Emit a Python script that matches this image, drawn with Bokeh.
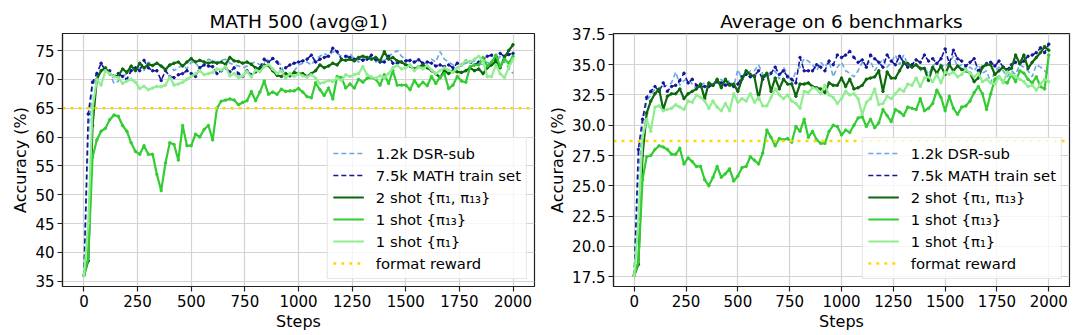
from bokeh.plotting import figure
from bokeh.layouts import row
from bokeh.models import Range1d, FixedTicker, PrintfTickFormatter, Legend, LegendItem
from bokeh.embed import file_html
from bokeh.resources import INLINE

steps = list(range(0, 2001, 20))
x_ticks = [0, 250, 500, 750, 1000, 1250, 1500, 1750, 2000]

series_names = ["1.2k DSR-sub", "7.5k MATH train set", "2 shot {π₁, π₁₃}",
                "1 shot {π₁₃}", "1 shot {π₁}", "format reward"]

# ---- MATH 500 (avg@1) ----
math_dsr = [36.0, 60.0, 69.0, 70.5, 71.5, 71.8, 71.0, 69.3, 69.7, 70.5,
            71.0, 71.5, 71.8, 72.0, 71.5, 73.0, 72.5, 72.8, 72.3, 72.0,
            72.5, 71.5, 72.0, 72.5, 71.8, 73.0, 72.8, 72.0, 72.5, 73.5,
            73.2, 73.0, 73.3, 73.5, 72.8, 72.5, 72.3, 72.0, 72.3, 72.8,
            73.0, 72.5, 73.0, 73.5, 73.8, 73.0, 72.5, 70.0, 71.0, 71.5,
            72.5, 72.8, 73.0, 72.5, 73.5, 74.0, 74.5, 74.0, 74.8, 74.5,
            74.0, 73.8, 74.5, 73.5, 73.0, 73.5, 74.0, 73.8, 73.0, 73.5,
            73.2, 74.0, 74.5, 75.0, 74.0, 73.5, 73.0, 72.8, 73.5, 72.5,
            73.0, 73.5, 73.0, 74.8, 73.5, 73.0, 72.5, 72.0, 72.5, 72.8,
            73.0, 73.2, 72.8, 72.5, 73.0, 72.5, 72.8, 74.0, 73.0, 72.0,
            71.0]
math_75k = [36.0, 64.0, 69.5, 71.0, 72.8, 71.5, 71.5, 70.5, 71.0, 70.5,
            70.0, 71.5, 72.0, 71.5, 73.3, 72.0, 71.5, 71.5, 69.8, 71.5,
            70.5, 70.3, 70.8, 71.0, 71.5, 71.0, 70.5, 72.0, 72.5, 72.3,
            72.2, 71.0, 71.5, 72.0, 71.3, 72.0, 71.0, 70.5, 71.5, 70.8,
            71.3, 72.0, 73.5, 73.0, 73.6, 73.0, 71.5, 72.0, 72.5, 72.8,
            73.0, 73.2, 73.5, 74.2, 73.0, 73.5, 73.8, 74.0, 75.4, 74.8,
            73.5, 74.0, 73.8, 73.5, 73.6, 73.3, 73.5, 74.2, 73.4, 73.0,
            73.0, 74.0, 72.8, 72.8, 73.0, 73.2, 73.3, 73.0, 73.4, 72.8,
            73.0, 72.8, 72.3, 72.5, 72.2, 72.5, 72.0, 72.8, 72.5, 73.2,
            73.0, 72.5, 73.0, 73.5, 74.0, 74.2, 73.5, 74.5, 74.0, 74.3,
            74.5]
math_2shot = [36.0, 38.5, 62.0, 70.0, 71.5, 72.0, 71.0, 70.5, 70.6, 71.8,
              71.2, 72.3, 71.5, 72.8, 72.0, 72.6, 72.4, 72.8, 72.3, 71.7,
              72.5, 72.8, 73.0, 72.3, 73.0, 73.6, 73.0, 73.3, 73.0, 72.8,
              73.0, 72.8, 73.0, 72.6, 73.8, 73.2, 73.1, 72.8, 73.0, 72.6,
              72.0, 71.8, 72.5, 72.4, 71.5, 70.7, 70.5, 71.0, 70.6, 71.2,
              71.0, 71.0, 70.5, 71.0, 71.5, 72.5, 72.0, 72.3, 72.8, 72.5,
              73.4, 73.3, 73.5, 73.2, 73.8, 74.0, 73.8, 73.5, 73.8, 73.2,
              74.8, 73.5, 73.8, 73.2, 73.0, 72.5, 72.3, 71.8, 72.2, 72.5,
              72.0, 71.5, 71.0, 70.3, 71.5, 71.0, 71.5, 71.3, 71.2, 71.5,
              72.0, 71.5, 71.8, 71.0, 72.0, 72.5, 73.2, 72.0, 73.8, 75.0,
              76.0]
math_pi13 = [36.0, 39.0, 56.5, 59.5, 61.0, 61.5, 63.0, 63.8, 63.6, 62.0,
             61.0, 59.0, 57.5, 57.0, 58.5, 57.0, 57.0, 53.5, 50.7, 55.5,
             59.0, 58.7, 56.0, 62.0, 58.5, 58.5, 60.5, 60.0, 61.3, 62.0,
             59.5, 65.0, 66.2, 66.4, 66.6, 66.4, 65.6, 66.0, 66.3, 67.9,
             66.3, 67.8, 69.7, 67.4, 67.8, 67.4, 68.3, 67.9, 68.0, 68.0,
             68.4, 67.8, 67.0, 66.8, 69.4, 68.2, 67.2, 68.5, 66.6, 70.5,
             70.3, 68.5, 69.2, 68.5, 70.0, 69.5, 70.2, 70.3, 70.0, 69.0,
             70.8, 69.3, 71.5, 69.0, 69.0, 69.0, 68.2, 69.8, 68.8, 69.5,
             68.9, 70.5, 69.3, 70.4, 71.0, 68.4, 69.0, 70.5, 69.7, 69.5,
             72.2, 72.5, 72.5, 73.8, 72.3, 73.0, 74.2, 72.2, 73.5, 72.8,
             74.0]
math_pi1 = [36.0, 45.0, 65.0, 70.0, 69.0, 71.5, 71.0, 70.5, 70.3, 69.3,
            69.7, 70.0, 69.5, 68.4, 68.8, 68.2, 68.5, 68.8, 68.7, 69.0,
            70.4, 69.0, 69.2, 69.5, 70.0, 70.5, 71.0, 71.5, 70.8, 71.0,
            71.2, 71.8, 71.6, 72.2, 70.6, 71.0, 70.3, 70.6, 71.4, 70.4,
            71.6, 71.3, 72.2, 72.6, 71.8, 71.0, 71.5, 70.2, 71.0, 70.5,
            71.0, 70.6, 70.4, 70.8, 70.2, 69.3, 69.5, 69.8, 69.6, 70.2,
            69.8, 70.8, 70.5, 70.8, 71.0, 72.2, 70.8, 70.4, 70.2, 70.6,
            70.3, 71.0, 72.0, 72.4, 71.8, 72.0, 72.5, 71.5, 72.2, 71.8,
            72.4, 71.6, 71.0, 71.5, 72.0, 71.6, 71.2, 72.0, 72.5, 73.2,
            73.0, 73.5, 74.0, 73.2, 70.5, 70.5, 72.5, 71.0, 70.3, 72.0,
            73.5]
math_format = 65.0
math_y_ticks = [35, 40, 45, 50, 55, 60, 65, 70, 75]

# ---- Average on 6 benchmarks ----
avg_dsr = [17.6, 26.0, 30.0, 32.0, 32.5, 33.0, 32.8, 33.2, 33.3, 33.5,
           34.4, 33.3, 33.7, 33.8, 33.4, 33.0, 33.3, 33.5, 33.2, 33.4,
           33.5, 33.8, 33.4, 33.7, 33.2, 34.6, 33.8, 34.2, 34.5, 34.5,
           35.0, 34.2, 34.0, 34.2, 34.5, 33.8, 34.8, 34.2, 33.5, 34.5,
           34.8, 35.5, 35.3, 35.0, 34.5, 35.2, 34.8, 35.3, 34.0, 34.8,
           35.2, 34.5, 34.3, 34.0, 34.5, 35.2, 35.0, 35.3, 34.5, 35.0,
           35.5, 34.8, 35.2, 35.8, 35.0, 35.8, 35.0, 34.8, 35.0, 34.5,
           34.8, 34.2, 34.9, 35.2, 35.0, 34.8, 35.2, 35.7, 34.8, 35.0,
           34.5, 34.8, 34.5, 35.0, 34.3, 34.5, 33.5, 34.5, 34.8, 34.5,
           34.0, 34.5, 34.2, 35.0, 34.8, 34.5, 34.0, 35.0, 34.8, 34.5,
           34.2]
avg_75k = [17.6, 28.0, 30.5, 32.3, 32.8, 33.2, 32.8, 33.5, 32.8, 33.2,
           33.3, 33.7, 34.3, 33.5, 33.8, 33.3, 33.2, 33.2, 33.2, 33.3,
           33.6, 33.5, 33.3, 33.4, 33.2, 33.4, 34.0, 34.2, 34.0, 34.1,
           34.5, 33.8, 34.2, 34.3, 34.8, 34.2, 34.5, 34.0, 33.8, 33.5,
           35.6, 34.5, 34.5, 34.5, 35.0, 34.8, 34.5, 35.3, 35.0, 35.8,
           35.6, 35.8, 36.1, 35.6, 35.2, 35.4, 34.8, 35.8, 35.5, 35.2,
           34.8, 35.8, 35.3, 35.0, 35.7, 35.2, 34.8, 35.0, 35.4, 35.2,
           35.8, 35.3, 35.5, 35.1, 35.5, 36.3, 35.1, 36.2, 35.5, 35.3,
           34.9, 35.2, 35.5, 34.5, 34.8, 35.1, 35.2, 34.9, 35.3, 34.8,
           34.6, 35.0, 35.2, 35.1, 35.3, 35.7, 35.8, 36.0, 36.4, 36.0,
           36.7]
avg_2shot = [17.6, 18.5, 27.5, 31.0, 32.0, 32.6, 33.0, 31.3, 32.4, 32.6,
             32.6, 33.0, 32.2, 32.6, 32.8, 33.0, 33.4, 32.2, 33.5, 33.3,
             33.8, 33.1, 33.8, 33.3, 33.4, 32.8, 33.8, 34.5, 34.2, 34.0,
             32.2, 34.0, 34.3, 32.8, 33.9, 33.0, 33.8, 33.4, 33.4, 32.4,
             33.4, 33.4, 33.5, 33.2, 33.1, 33.0, 32.7, 33.5, 33.3, 33.3,
             33.9, 33.2, 33.8, 33.0, 33.1, 33.3, 33.8, 33.9, 34.0, 34.5,
             32.8, 34.4, 33.9, 33.9, 34.5, 35.1, 35.1, 34.8, 35.0, 34.7,
             34.7, 33.7, 34.8, 34.3, 34.9, 34.2, 35.0, 34.5, 34.9, 34.6,
             34.5, 34.3, 33.6, 33.9, 34.8, 35.0, 35.0, 34.2, 34.5, 34.8,
             34.5, 34.7, 35.8, 35.1, 35.8, 34.7, 35.2, 35.6, 36.0, 36.5,
             36.2]
avg_pi13 = [17.6, 18.7, 25.5, 27.4, 27.5, 28.0, 28.3, 28.2, 28.0, 27.6,
            27.6, 28.1, 26.8, 27.3, 27.0, 26.6, 26.6, 25.5, 25.0, 25.7,
            26.6, 25.7, 26.0, 26.4, 25.4, 25.8, 26.5, 26.6, 27.4, 27.1,
            26.8, 27.7, 29.6, 29.0, 28.3, 28.9, 28.8, 28.9, 28.6, 29.9,
            29.5, 30.5, 29.0, 29.5, 28.8, 28.5, 28.5, 29.5, 30.0, 29.9,
            29.2, 29.6, 29.4, 30.0, 30.6, 30.7, 29.9, 30.5, 29.8, 30.2,
            31.3, 30.8, 30.3, 31.3, 31.1, 30.8, 31.5, 31.4, 31.3, 32.2,
            31.2, 31.4, 31.8, 32.9, 32.3, 31.2, 32.4, 31.4, 30.9, 31.5,
            31.6, 32.0, 32.7, 33.2, 32.6, 31.3, 32.6, 33.8, 34.0, 33.6,
            33.5, 34.2, 33.6, 34.5, 34.3, 33.8, 33.5, 34.0, 33.2, 33.0,
            35.8]
avg_pi1 = [17.6, 22.0, 29.0, 30.5, 29.5, 31.5, 31.6, 31.2, 31.3, 31.4,
           31.7, 31.5, 31.3, 32.0, 31.9, 32.5, 32.3, 32.0, 31.4, 32.0,
           31.5, 31.2, 31.8, 31.2, 32.6, 31.9, 32.2, 32.0, 32.6, 31.9,
           32.3, 31.6, 31.6, 32.3, 33.0, 32.5, 32.2, 32.5, 32.0, 31.8,
           31.4, 32.8, 32.7, 33.1, 33.0, 32.6, 33.3, 32.5, 32.3, 31.8,
           32.2, 32.8, 32.5, 32.6, 32.2, 30.9, 31.9, 32.2, 33.0, 31.7,
           31.8, 32.4, 32.2, 32.6, 33.0, 32.8, 33.4, 33.3, 33.9, 33.2,
           33.9, 34.0, 33.6, 34.2, 33.5, 34.4, 34.2, 34.4, 34.0, 34.2,
           34.6, 34.3, 34.0, 34.3, 33.6, 33.8, 33.5, 33.4, 34.0, 33.5,
           34.4, 34.2, 34.0, 33.8, 33.6, 33.2, 33.3, 32.9, 33.4, 33.8,
           33.6]
avg_format = 28.7
avg_y_ticks = [17.5, 20.0, 22.5, 25.0, 27.5, 30.0, 32.5, 35.0, 37.5]

FONT = "DejaVu Sans"
COLORS = ["#67a9e0", "#15159c", "#0c680c", "#32cd32", "#90ee90", "#ffd700"]


def make_panel(title, series, fmt_val, y_ticks, y_range, y_fmt, border_left, border_right):
    p = figure(width=540, height=335, output_backend="svg", toolbar_location=None,
               x_range=Range1d(-100, 2100), y_range=Range1d(*y_range),
               min_border_left=border_left, min_border_right=border_right,
               min_border_top=33, min_border_bottom=49)
    p.title.text = title
    p.title.align = "center"
    p.title.text_font = FONT
    p.title.text_font_size = "18.5px"
    p.title.text_font_style = "normal"
    p.title.text_color = "black"
    p.title.standoff = 3

    p.outline_line_color = "#222222"
    p.outline_line_width = 1.2
    p.background_fill_color = "white"
    p.border_fill_color = "white"

    for ax in (p.xaxis[0], p.yaxis[0]):
        ax.axis_label_text_font = FONT
        ax.axis_label_text_font_size = "16px"
        ax.axis_label_text_font_style = "normal"
        ax.axis_label_text_color = "black"
        ax.major_label_text_font = FONT
        ax.major_label_text_font_size = "15px"
        ax.major_label_text_color = "black"
        ax.major_tick_in = 0
        ax.major_tick_out = 5
        ax.minor_tick_line_color = None
        ax.axis_line_color = "#222222"
        ax.axis_line_width = 1.2
        ax.major_tick_line_color = "#222222"
        ax.major_tick_line_width = 1.2
        ax.major_label_standoff = 3
        ax.axis_label_standoff = 2
    p.xaxis[0].axis_label = "Steps"
    p.yaxis[0].axis_label = "Accuracy (%)"
    p.xaxis[0].ticker = FixedTicker(ticks=x_ticks)
    p.yaxis[0].ticker = FixedTicker(ticks=y_ticks)
    p.yaxis[0].formatter = PrintfTickFormatter(format=y_fmt)

    p.xgrid[0].ticker = FixedTicker(ticks=x_ticks)
    p.ygrid[0].ticker = FixedTicker(ticks=y_ticks)
    for g in (p.xgrid[0], p.ygrid[0]):
        g.grid_line_color = "#d3d3d3"
        g.grid_line_width = 1.2

    items = []
    styles = [
        dict(dash="5 3", width=1.6, marker=False),
        dict(dash="5 3", width=1.6, marker=True),
        dict(dash="solid", width=2.2, marker=True),
        dict(dash="solid", width=2.2, marker=True),
        dict(dash="solid", width=2.2, marker=True),
    ]
    for name, ys, color, st in zip(series_names[:5], series, COLORS[:5], styles):
        ln = p.line(steps, ys, line_color=color, line_width=st["width"], line_dash=st["dash"])
        if st["marker"]:
            p.scatter(steps, ys, size=2.5, marker="circle",
                      fill_color=color, line_color=color)
        items.append(LegendItem(label=name, renderers=[ln]))

    fr = p.line([p.x_range.start, p.x_range.end], [fmt_val, fmt_val],
                line_color=COLORS[5], line_width=2.6, line_dash="3 5")
    items.append(LegendItem(label=series_names[5], renderers=[fr]))

    legend = Legend(items=items, location="bottom_right")
    legend.label_text_font = FONT
    legend.label_text_font_size = "14.8px"
    legend.label_text_color = "black"
    legend.glyph_width = 31
    legend.glyph_height = 20
    legend.label_height = 20
    legend.spacing = 2
    legend.padding = 5
    legend.margin = 7
    legend.label_standoff = 12
    legend.border_line_color = "#cccccc"
    legend.border_line_width = 1
    legend.background_fill_color = "white"
    legend.background_fill_alpha = 0.8
    p.add_layout(legend, "center")
    return p


p1 = make_panel("MATH 500 (avg@1)",
                [math_dsr, math_75k, math_2shot, math_pi13, math_pi1], math_format,
                math_y_ticks, (34.08, 77.95), "%d", 62, 6)
p2 = make_panel("Average on 6 benchmarks",
                [avg_dsr, avg_75k, avg_2shot, avg_pi13, avg_pi1], avg_format,
                avg_y_ticks, (16.68, 37.58), "%.1f", 73, 11)

layout = row(p1, p2)
open("out.html", "w").write(file_html(layout, INLINE))
